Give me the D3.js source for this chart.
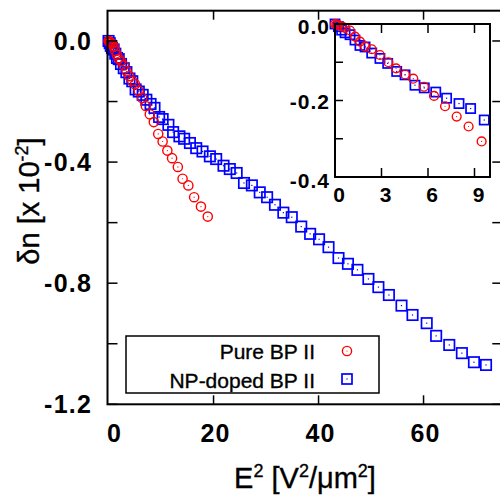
<!DOCTYPE html>
<html>
<head>
<meta charset="utf-8">
<script src="https://cdn.jsdelivr.net/npm/d3@7"></script>
<style>
  body { margin: 0; background: #fff; }
  svg { display: block; font-family: "Liberation Sans", Arial, sans-serif; }
  .tick-lab { font-weight: bold; }
  .title { stroke: #000; stroke-width: 0.35; }
</style>
</head>
<body>
<div id="chart"></div>
<script>
// Pure BP II (red circles)
var pureX = [0, 0.1, 0.22, 0.43, 0.65, 0.97, 1.29, 1.61, 1.94, 2.37, 2.9, 3.44, 3.94, 4.52, 5.05, 5.74, 6.39, 7.1, 7.85, 8.62, 9.46,
  10.3, 11.2, 12.1, 13.2, 14.1, 15.2, 16.3, 17.6, 18.9];
var pureY = [0, -0.001, -0.003, -0.006, -0.01, -0.017, -0.033, -0.046, -0.059, -0.066, -0.081, -0.1, -0.116, -0.132, -0.143, -0.164, -0.188, -0.215, -0.242, -0.268, -0.307,
  -0.332, -0.362, -0.387, -0.416, -0.455, -0.477, -0.516, -0.547, -0.58];

// NP-doped BP II (blue squares)
var npX = [0, 0.22, 0.43, 0.65, 0.97, 1.29, 1.61, 1.94, 2.37, 2.9, 3.4, 3.98, 4.52, 5.16, 5.76, 6.5, 7.2, 8.0, 8.75, 9.63,
  10.3, 11.4, 12.3, 13.5, 14.4, 15.5, 16.7, 17.9, 19.3, 20.5, 21.9, 23.1, 24.4, 25.8, 27.3, 28.8, 30.2, 31.7, 33.3, 34.9,
  36.7, 38.4, 40.1, 41.9, 43.8, 45.6, 47.4, 49.5, 51.4, 53.4, 55.8, 57.9, 60.6, 62.4, 64.9, 67.3, 69.6, 71.9];
var npY = [0, -0.007, -0.016, -0.023, -0.028, -0.042, -0.056, -0.06, -0.076, -0.09, -0.103, -0.124, -0.133, -0.16, -0.167, -0.178, -0.194, -0.208, -0.221, -0.251,
  -0.258, -0.277, -0.301, -0.315, -0.323, -0.337, -0.354, -0.365, -0.381, -0.39, -0.412, -0.423, -0.436, -0.469, -0.477, -0.5,
  -0.516, -0.541, -0.567, -0.582, -0.613, -0.637, -0.655, -0.681, -0.717, -0.736, -0.756, -0.786, -0.813, -0.839, -0.874, -0.905,
  -0.932, -0.974, -1.004, -1.031, -1.061, -1.07];

var mainXTicks = [0, 20, 40, 60];
var mainYTicks = [0, -0.2, -0.4, -0.6, -0.8, -1.0, -1.2];
var mainYLabels = [0, -0.4, -0.8, -1.2];
var insetXTicks = [0, 3, 6, 9];
var insetYTicks = [0, -0.1, -0.2, -0.3, -0.4];
var insetYLabels = [0, -0.2, -0.4];
var legendNames = ["Pure BP II", "NP-doped BP II"];

var width = 500, height = 498;
var RED = "#ff0000", BLUE = "#0000ff";

var pure = pureX.map(function(x, i) { return {x: x, y: pureY[i]}; });
var np = npX.map(function(x, i) { return {x: x, y: npY[i]}; });

var svg = d3.select("#chart").append("svg")
  .attr("width", width)
  .attr("height", height);

// main plot scales
var x = d3.scaleLinear().domain([-0.2, 75]).range([107.5, 502.3]);
var y = d3.scaleLinear().domain([-1.2, 0.1]).range([404.3, 10.7]);

function circles(g, data, xs, ys, r) {
  var s = g.selectAll(null).data(data).enter().append("g")
    .attr("transform", function(d) { return "translate(" + xs(d.x) + "," + ys(d.y) + ")"; });
  s.append("circle").attr("r", r).attr("fill", "none").attr("stroke", RED).attr("stroke-width", 1.4);
  s.append("circle").attr("r", 0.6).attr("fill", RED);
}
function squares(g, data, xs, ys, a) {
  var s = g.selectAll(null).data(data).enter().append("g")
    .attr("transform", function(d) { return "translate(" + xs(d.x) + "," + ys(d.y) + ")"; });
  s.append("rect").attr("x", -a).attr("y", -a).attr("width", 2 * a).attr("height", 2 * a)
    .attr("fill", "none").attr("stroke", BLUE).attr("stroke-width", 1.7);
  s.append("rect").attr("x", -0.6).attr("y", -0.6).attr("width", 1.2).attr("height", 1.2).attr("fill", BLUE);
}

var main = svg.append("g");
squares(main, np, x, y, 5.2);
circles(main, pure, x, y, 4.6);

// main frame + ticks
var x0 = x.range()[0], x1 = x.range()[1], y0 = y.range()[0], y1 = y.range()[1];
main.append("rect").attr("x", x0).attr("y", y1).attr("width", x1 - x0).attr("height", y0 - y1)
  .attr("fill", "none").attr("stroke", "#000").attr("stroke-width", 2);

mainXTicks.forEach(function(t) {
  if (t === 0) return;
  main.append("line").attr("x1", x(t)).attr("x2", x(t)).attr("y1", y0).attr("y2", y0 - 9).attr("stroke", "#000").attr("stroke-width", 1.5);
  main.append("line").attr("x1", x(t)).attr("x2", x(t)).attr("y1", y1).attr("y2", y1 + 9).attr("stroke", "#000").attr("stroke-width", 1.5);
});
mainYTicks.forEach(function(t) {
  main.append("line").attr("x1", x0).attr("x2", x0 + 10).attr("y1", y(t)).attr("y2", y(t)).attr("stroke", "#000").attr("stroke-width", 1.5);
  main.append("line").attr("x1", x1).attr("x2", x1 - 10).attr("y1", y(t)).attr("y2", y(t)).attr("stroke", "#000").attr("stroke-width", 1.5);
});

main.selectAll(".xl").data(mainXTicks).enter().append("text")
  .attr("class", "tick-lab")
  .attr("x", function(d) { return x(d) + (d === 0 ? 6 : 2); })
  .attr("y", 442)
  .attr("text-anchor", "middle")
  .attr("font-size", 25)
  .attr("letter-spacing", 1.2)
  .text(function(d) { return d; });

main.selectAll(".yl").data(mainYLabels).enter().append("text")
  .attr("class", "tick-lab")
  .attr("x", 92)
  .attr("y", function(d) { return y(d) + 9; })
  .attr("text-anchor", "end")
  .attr("font-size", 25)
  .attr("letter-spacing", 1.2)
  .text(function(d) { return d3.format(".1f")(d).replace("−", "-"); });

// axis titles
var xt = svg.append("text").attr("class", "title").attr("x", 305).attr("y", 488).attr("text-anchor", "middle").attr("font-size", 29);
xt.append("tspan").text("E");
xt.append("tspan").attr("font-size", 18).attr("dy", -11).text("2");
xt.append("tspan").attr("dy", 11).text(" [V");
xt.append("tspan").attr("font-size", 18).attr("dy", -11).text("2");
xt.append("tspan").attr("dy", 11).text("/\u03bcm");
xt.append("tspan").attr("font-size", 18).attr("dy", -11).text("2");
xt.append("tspan").attr("dy", 11).text("]");

var yt = svg.append("text").attr("class", "title").attr("transform", "translate(39,201) rotate(-90)").attr("text-anchor", "middle").attr("font-size", 29);
yt.append("tspan").text("\u03b4n [x 10");
yt.append("tspan").attr("font-size", 18).attr("dy", -11).text("-2");
yt.append("tspan").attr("dy", 11).text("]");

// legend
var lg = svg.append("g");
lg.append("rect").attr("x", 126).attr("y", 336).attr("width", 253).attr("height", 57)
  .attr("fill", "#fff").attr("stroke", "#000").attr("stroke-width", 1.5);
lg.selectAll(".lt").data(legendNames).enter().append("text")
  .attr("class", "title")
  .attr("x", 315).attr("y", function(d, i) { return 359 + i * 29; })
  .attr("text-anchor", "end").attr("font-size", 21)
  .text(function(d) { return d; });
var lx = d3.scaleLinear().domain([0, 1]).range([347, 348]);
var ly = d3.scaleLinear().domain([0, 1]).range([351, 352]);
circles(lg, [{x: 0, y: 0}], lx, ly, 4.6);
var ly2 = d3.scaleLinear().domain([0, 1]).range([379, 380]);
squares(lg, [{x: 0, y: 0}], lx, ly2, 5);

// inset
var ix = d3.scaleLinear().domain([0, 10]).range([335, 490]);
var iy = d3.scaleLinear().domain([-0.4, 0]).range([177, 24]);
var inset = svg.append("g");
inset.append("rect").attr("x", 335).attr("y", 24).attr("width", 155).attr("height", 153).attr("fill", "#fff");
squares(inset, np.filter(function(d) { return d.x <= 10; }), ix, iy, 4.6);
circles(inset, pure.filter(function(d) { return d.x <= 10; }), ix, iy, 4.4);
inset.append("rect").attr("x", 335).attr("y", 24).attr("width", 155).attr("height", 153)
  .attr("fill", "none").attr("stroke", "#000").attr("stroke-width", 2);
insetXTicks.forEach(function(t) {
  if (t === 0) return;
  inset.append("line").attr("x1", ix(t)).attr("x2", ix(t)).attr("y1", 177).attr("y2", 168).attr("stroke", "#000").attr("stroke-width", 1.5);
  inset.append("line").attr("x1", ix(t)).attr("x2", ix(t)).attr("y1", 24).attr("y2", 33).attr("stroke", "#000").attr("stroke-width", 1.5);
});
insetYTicks.forEach(function(t) {
  inset.append("line").attr("x1", 335).attr("x2", 343).attr("y1", iy(t)).attr("y2", iy(t)).attr("stroke", "#000").attr("stroke-width", 1.5);
});
inset.selectAll(".ixl").data(insetXTicks).enter().append("text")
  .attr("class", "tick-lab")
  .attr("x", function(d) { return ix(d) + 4.5; })
  .attr("y", 202)
  .attr("text-anchor", "middle")
  .attr("font-size", 21)
  .attr("letter-spacing", 1)
  .text(function(d) { return d; });
inset.selectAll(".iyl").data(insetYLabels).enter().append("text")
  .attr("class", "tick-lab")
  .attr("x", 330)
  .attr("y", function(d) { return iy(d) + 8 + (d === 0 ? 2 : 0) + (d === -0.4 ? 3 : 0); })
  .attr("text-anchor", "end")
  .attr("font-size", 21)
  .attr("letter-spacing", 1)
  .text(function(d) { return d3.format(".1f")(d).replace("−", "-"); });
</script>
</body>
</html>
